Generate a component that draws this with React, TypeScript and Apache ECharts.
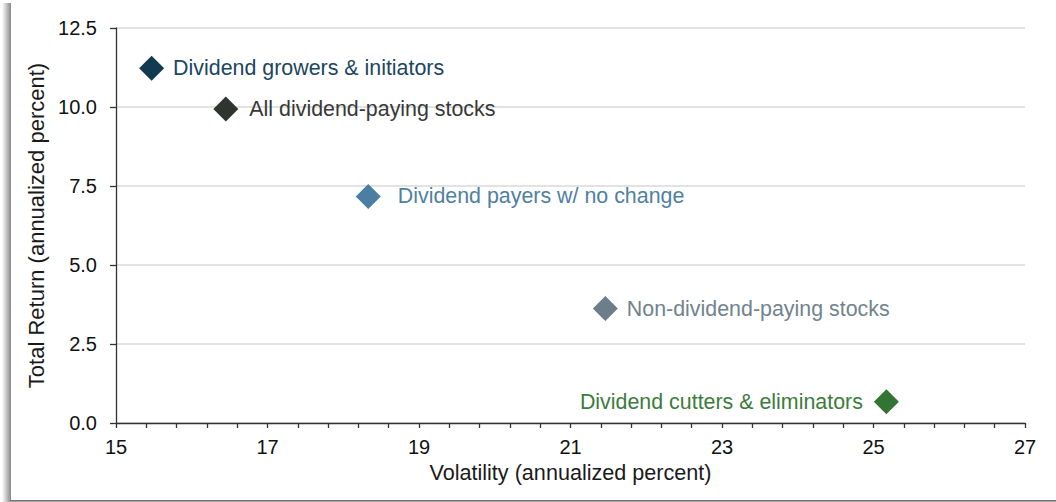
import React, { useEffect, useRef } from "react";
import * as echarts from "echarts";

const names = [
  "Dividend growers & initiators",
  "All dividend-paying stocks",
  "Dividend payers w/ no change",
  "Non-dividend-paying stocks",
  "Dividend cutters & eliminators",
];
const volatility = [15.47, 16.45, 18.33, 21.46, 25.17];
const totalReturn = [11.23, 9.94, 7.17, 3.62, 0.67];
const markerColors = ["#123a53", "#2f3430", "#4a7ea2", "#6b7e89", "#337433"];
const labelColors = ["#1b4660", "#383838", "#5080a2", "#72838d", "#3c7c3c"];
const labelSides = ["right", "right", "right", "right", "left"];
const labelGaps = [9, 11, 17, 9, 11];

const xTitle = "Volatility (annualized percent)";
const yTitle = "Total Return (annualized percent)";

const FONT = "Arial";

export default function App() {
  const ref = useRef<HTMLDivElement>(null);

  useEffect(() => {
    if (!ref.current) return;
    const chart = echarts.init(ref.current, undefined, { renderer: "svg" });

    const data = names.map((n, i) => ({
      name: n,
      value: [volatility[i], totalReturn[i]],
      itemStyle: { color: markerColors[i], opacity: 1 },
      label: {
        show: true,
        position: labelSides[i],
        distance: labelGaps[i],
        color: labelColors[i],
        formatter: "{b}",
        fontSize: 21.4,
        fontFamily: FONT,
      },
    }));

    chart.setOption({
      animation: false,
      backgroundColor: "#ffffff",
      textStyle: { fontFamily: FONT },
      grid: { left: 116, right: 31, top: 28, bottom: 79, containLabel: false },
      xAxis: {
        type: "value",
        min: 15,
        max: 27,
        interval: 2,
        name: xTitle,
        nameLocation: "middle",
        nameGap: 34,
        nameTextStyle: { fontSize: 21.6, color: "#1a1a1a", fontFamily: FONT },
        axisLine: { show: true, lineStyle: { color: "#333333", width: 1.3 } },
        axisTick: { show: true, length: 5, lineStyle: { color: "#333333", width: 1.3 } },
        minorTick: { show: true, splitNumber: 5, length: 5, lineStyle: { color: "#333333", width: 1.3 } },
        axisLabel: { fontSize: 20, color: "#111111", margin: 14, fontFamily: FONT },
        splitLine: { show: false },
      },
      yAxis: {
        type: "value",
        min: 0,
        max: 12.5,
        interval: 2.5,
        name: yTitle,
        nameLocation: "middle",
        nameGap: 66,
        nameRotate: 90,
        nameTextStyle: { fontSize: 22, color: "#1a1a1a", fontFamily: FONT },
        axisLine: { show: true, lineStyle: { color: "#333333", width: 1.3 } },
        axisTick: { show: true, length: 6, lineStyle: { color: "#333333", width: 1.3 } },
        axisLabel: {
          fontSize: 20,
          color: "#111111",
          margin: 19,
          fontFamily: FONT,
          formatter: (v: number) => v.toFixed(1),
        },
        splitLine: { show: true, lineStyle: { color: "#d9d9d9", width: 1.5 } },
      },
      graphic: [
        {
          type: "rect",
          shape: { x: 2, y: 3, width: 8, height: 499 },
          style: {
            fill: new echarts.graphic.LinearGradient(0, 0, 1, 0, [
              { offset: 0, color: "rgba(255,255,255,1)" },
              { offset: 1, color: "rgba(150,150,150,1)" },
            ]),
          },
          silent: true,
        },
        {
          type: "rect",
          shape: { x: 10, y: 3, width: 1, height: 499 },
          style: { fill: "#8c8c8c" },
          silent: true,
        },
        {
          type: "rect",
          shape: { x: 10, y: 500, width: 1046, height: 1 },
          style: { fill: "#6e6e6e" },
          silent: true,
        },
        {
          type: "rect",
          shape: { x: 10, y: 501, width: 1046, height: 1 },
          style: { fill: "#a8a8a8" },
          silent: true,
        },
      ],
      series: [
        {
          type: "scatter",
          symbol: "diamond",
          symbolSize: 25,
          itemStyle: { opacity: 1 },
          data,
        },
      ],
    });

    return () => chart.dispose();
  }, []);

  return (
    <div
      ref={ref}
      style={{ position: "absolute", left: 0, top: 0, width: 1056, height: 502 }}
    />
  );
}
